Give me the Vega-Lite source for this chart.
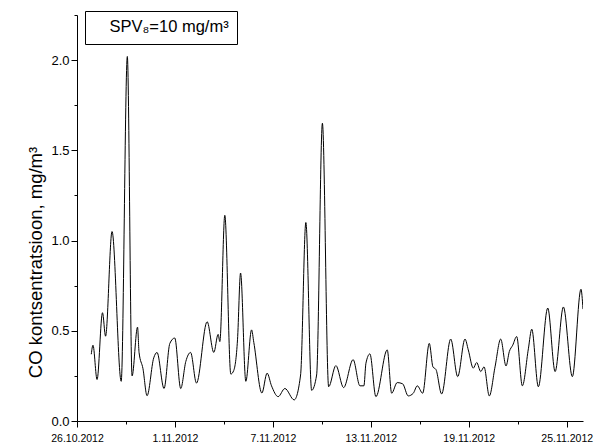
{
  "$schema": "https://vega.github.io/schema/vega-lite/v6.json",
  "autosize": "none",
  "width": 506,
  "height": 406,
  "padding": {"left": 77, "top": 15, "right": 12, "bottom": 27},
  "background": "white",
  "config": {
    "font": "Liberation Sans",
    "view": {"stroke": null},
    "axis": {"grid": false, "domainColor": "black", "tickColor": "black", "labelColor": "black", "titleColor": "black", "domainWidth": 1, "tickWidth": 1}
  },
  "data": {
    "values": [
      {"t": "2012-10-26T21:00", "co": 0.37},
      {"t": "2012-10-26T23:30", "co": 0.42},
      {"t": "2012-10-27T05:30", "co": 0.23},
      {"t": "2012-10-27T13:30", "co": 0.60},
      {"t": "2012-10-27T18:00", "co": 0.47},
      {"t": "2012-10-28T03:30", "co": 1.05},
      {"t": "2012-10-28T17:00", "co": 0.22},
      {"t": "2012-10-29T02:00", "co": 2.02},
      {"t": "2012-10-29T09:00", "co": 0.25},
      {"t": "2012-10-29T17:00", "co": 0.52},
      {"t": "2012-10-29T19:15", "co": 0.38},
      {"t": "2012-10-30T01:00", "co": 0.29},
      {"t": "2012-10-30T07:00", "co": 0.14},
      {"t": "2012-10-30T16:50", "co": 0.35},
      {"t": "2012-10-30T21:40", "co": 0.38},
      {"t": "2012-10-31T08:00", "co": 0.18},
      {"t": "2012-10-31T16:30", "co": 0.43},
      {"t": "2012-10-31T23:45", "co": 0.46},
      {"t": "2012-11-01T08:30", "co": 0.18},
      {"t": "2012-11-01T16:00", "co": 0.33},
      {"t": "2012-11-01T23:00", "co": 0.38},
      {"t": "2012-11-02T07:40", "co": 0.21},
      {"t": "2012-11-02T23:20", "co": 0.55},
      {"t": "2012-11-03T09:10", "co": 0.38},
      {"t": "2012-11-03T15:30", "co": 0.48},
      {"t": "2012-11-03T18:00", "co": 0.44},
      {"t": "2012-11-04T01:20", "co": 1.14},
      {"t": "2012-11-04T10:10", "co": 0.26},
      {"t": "2012-11-04T14:30", "co": 0.28},
      {"t": "2012-11-04T20:00", "co": 0.45},
      {"t": "2012-11-05T00:30", "co": 0.82},
      {"t": "2012-11-05T08:15", "co": 0.22},
      {"t": "2012-11-05T16:40", "co": 0.505},
      {"t": "2012-11-05T20:00", "co": 0.435},
      {"t": "2012-11-06T07:50", "co": 0.155},
      {"t": "2012-11-06T15:30", "co": 0.265},
      {"t": "2012-11-06T22:00", "co": 0.195},
      {"t": "2012-11-07T07:45", "co": 0.135},
      {"t": "2012-11-07T17:40", "co": 0.18},
      {"t": "2012-11-08T07:20", "co": 0.117},
      {"t": "2012-11-08T16:45", "co": 0.255},
      {"t": "2012-11-09T00:30", "co": 1.10},
      {"t": "2012-11-09T09:00", "co": 0.17},
      {"t": "2012-11-09T16:20", "co": 0.255},
      {"t": "2012-11-10T00:50", "co": 1.65},
      {"t": "2012-11-10T10:00", "co": 0.19},
      {"t": "2012-11-10T20:40", "co": 0.307},
      {"t": "2012-11-11T08:00", "co": 0.185},
      {"t": "2012-11-11T22:00", "co": 0.34},
      {"t": "2012-11-12T08:00", "co": 0.195},
      {"t": "2012-11-12T13:50", "co": 0.195},
      {"t": "2012-11-12T16:50", "co": 0.32},
      {"t": "2012-11-12T22:40", "co": 0.372},
      {"t": "2012-11-13T07:30", "co": 0.135},
      {"t": "2012-11-14T00:10", "co": 0.394},
      {"t": "2012-11-14T06:40", "co": 0.154},
      {"t": "2012-11-14T14:50", "co": 0.213},
      {"t": "2012-11-14T22:50", "co": 0.206},
      {"t": "2012-11-15T07:00", "co": 0.139},
      {"t": "2012-11-15T14:30", "co": 0.154},
      {"t": "2012-11-15T20:20", "co": 0.195},
      {"t": "2012-11-16T04:15", "co": 0.154},
      {"t": "2012-11-16T14:00", "co": 0.43},
      {"t": "2012-11-16T19:20", "co": 0.30},
      {"t": "2012-11-16T23:50", "co": 0.285},
      {"t": "2012-11-17T08:10", "co": 0.15},
      {"t": "2012-11-17T21:30", "co": 0.454},
      {"t": "2012-11-18T07:45", "co": 0.246},
      {"t": "2012-11-18T18:30", "co": 0.454},
      {"t": "2012-11-18T23:20", "co": 0.394},
      {"t": "2012-11-19T06:40", "co": 0.293},
      {"t": "2012-11-19T11:40", "co": 0.324},
      {"t": "2012-11-19T17:40", "co": 0.274},
      {"t": "2012-11-19T22:30", "co": 0.30},
      {"t": "2012-11-20T06:15", "co": 0.139},
      {"t": "2012-11-20T14:40", "co": 0.30},
      {"t": "2012-11-20T23:00", "co": 0.454},
      {"t": "2012-11-21T06:50", "co": 0.305},
      {"t": "2012-11-21T11:40", "co": 0.385},
      {"t": "2012-11-21T16:40", "co": 0.42},
      {"t": "2012-11-21T22:30", "co": 0.468},
      {"t": "2012-11-22T06:50", "co": 0.195},
      {"t": "2012-11-22T15:40", "co": 0.40},
      {"t": "2012-11-22T20:40", "co": 0.509},
      {"t": "2012-11-23T06:20", "co": 0.19},
      {"t": "2012-11-23T20:10", "co": 0.626},
      {"t": "2012-11-24T07:00", "co": 0.274},
      {"t": "2012-11-24T19:10", "co": 0.632},
      {"t": "2012-11-25T08:20", "co": 0.246},
      {"t": "2012-11-25T21:00", "co": 0.73},
      {"t": "2012-11-26T00:00", "co": 0.62}
    ]
  },
  "mark": {"type": "line", "interpolate": "monotone", "strokeWidth": 1, "clip": true},
  "encoding": {
    "x": {
      "field": "t",
      "type": "temporal",
      "scale": {"domain": [{"year": 2012, "month": 10, "date": 26}, {"year": 2012, "month": 11, "date": 26}]},
      "axis": {
        "title": null,
        "values": [
          {"year": 2012, "month": 10, "date": 26},
          {"year": 2012, "month": 10, "date": 29},
          {"year": 2012, "month": 11, "date": 1},
          {"year": 2012, "month": 11, "date": 4},
          {"year": 2012, "month": 11, "date": 7},
          {"year": 2012, "month": 11, "date": 10},
          {"year": 2012, "month": 11, "date": 13},
          {"year": 2012, "month": 11, "date": 16},
          {"year": 2012, "month": 11, "date": 19},
          {"year": 2012, "month": 11, "date": 22},
          {"year": 2012, "month": 11, "date": 25}
        ],
        "labelExpr": "indexof([29,4,10,16,22], date(datum.value)) >= 0 ? '' : timeFormat(datum.value, '%-d.%m.%Y')",
        "tickSize": {"condition": {"test": "indexof([29,4,10,16,22], date(datum.value)) >= 0", "value": 3}, "value": 6},
        "labelFontSize": 10.5,
        "labelPadding": 6,
        "labelFlush": false,
        "labelOverlap": false
      }
    },
    "y": {
      "field": "co",
      "type": "quantitative",
      "scale": {"domain": [0, 2.25], "nice": false, "zero": true},
      "axis": {
        "title": "CO kontsentratsioon, mg/m³",
        "titleFontSize": 18.5,
        "titleFontWeight": "normal",
        "titlePadding": 5,
        "titleY": 247,
        "values": [0, 0.25, 0.5, 0.75, 1, 1.25, 1.5, 1.75, 2, 2.25],
        "labelExpr": "abs(datum.value*2 - round(datum.value*2)) < 0.01 ? format(datum.value, '.1f') : ''",
        "tickSize": {"condition": {"test": "abs(datum.value*2 - round(datum.value*2)) < 0.01", "value": 6}, "value": 3},
        "labelFontSize": 13,
        "labelPadding": 2,
        "labelFlush": false,
        "labelOverlap": false
      }
    },
    "color": {
      "datum": "SPV₈=10 mg/m³",
      "type": "nominal",
      "scale": {"range": ["black"]},
      "legend": {
        "title": null,
        "orient": "none",
        "legendX": 8,
        "legendY": -4,
        "strokeColor": "black",
        "fillColor": "white",
        "padding": 8,
        "symbolSize": 0,
        "symbolOpacity": 0,
        "symbolStrokeWidth": 0,
        "labelOffset": 0,
        "labelFontSize": 16.5,
        "labelColor": "black"
      }
    }
  }
}
